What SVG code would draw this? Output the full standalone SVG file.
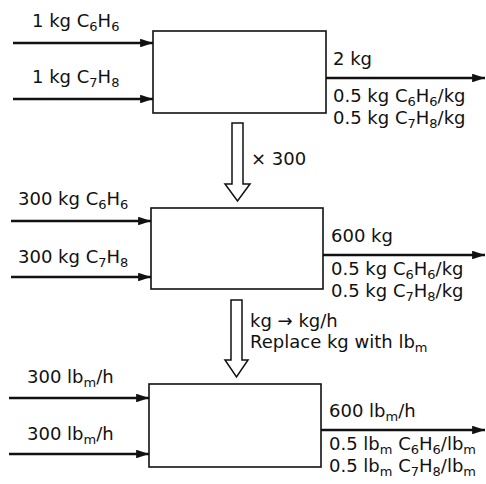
<svg xmlns="http://www.w3.org/2000/svg" width="486" height="484" viewBox="0 0 486 484">
<defs>
<style>
text{font-family:"DejaVu Sans","Liberation Sans",Arial,sans-serif;font-size:18px;fill:#111}
.s{font-size:13px}
.box{fill:#fff;stroke:#111;stroke-width:1.6}
.flow{stroke:#111;stroke-width:2.6;fill:none;marker-end:url(#ah)}
.big{fill:#fff;stroke:#111;stroke-width:1.5}
</style>
<marker id="ah" viewBox="0 0 12 8" refX="12" refY="4" markerWidth="5" markerHeight="3.3" orient="auto" markerUnits="strokeWidth">
<path d="M0,0 L12,4 L0,8 Z" fill="#111"/>
</marker>
</defs>
<rect width="486" height="484" fill="#fff"/>
<g id="connectors">
<line class="flow" x1="13" y1="43" x2="153" y2="43"/>
<line class="flow" x1="13" y1="99" x2="153" y2="99"/>
<line class="flow" x1="326" y1="78" x2="485" y2="78"/>
<line class="flow" x1="11" y1="221" x2="151" y2="221"/>
<line class="flow" x1="11" y1="277" x2="151" y2="277"/>
<line class="flow" x1="323" y1="255" x2="485" y2="255"/>
<line class="flow" x1="9" y1="398" x2="149" y2="398"/>
<line class="flow" x1="9" y1="454" x2="149" y2="454"/>
<line class="flow" x1="321" y1="430" x2="485" y2="430"/>
<path class="big" d="M232,123 L243,123 L243,184 L250,184 L237.5,201 L225,184 L232,184 Z"/>
<path class="big" d="M231,300 L242,300 L242,360 L248,360 L236.5,377 L225,360 L231,360 Z"/>
</g>
<g id="box1">
<rect class="box" x="153" y="31" width="173" height="82"/>
</g>
<g id="box2">
<rect class="box" x="151" y="208" width="172" height="81"/>
</g>
<g id="box3">
<rect class="box" x="149" y="384" width="172" height="83"/>
</g>
<g id="labels">
<text x="32" y="27">1 kg C<tspan class="s" dy="4">6</tspan><tspan dy="-4">H</tspan><tspan class="s" dy="4">6</tspan></text>
<text x="32" y="83">1 kg C<tspan class="s" dy="4">7</tspan><tspan dy="-4">H</tspan><tspan class="s" dy="4">8</tspan></text>
<text x="333" y="65">2 kg</text>
<text x="333" y="102">0.5 kg C<tspan class="s" dy="4">6</tspan><tspan dy="-4">H</tspan><tspan class="s" dy="4">6</tspan><tspan dy="-4">/kg</tspan></text>
<text x="333" y="124">0.5 kg C<tspan class="s" dy="4">7</tspan><tspan dy="-4">H</tspan><tspan class="s" dy="4">8</tspan><tspan dy="-4">/kg</tspan></text>
<text x="251" y="165">× 300</text>
<text x="18" y="205">300 kg C<tspan class="s" dy="4">6</tspan><tspan dy="-4">H</tspan><tspan class="s" dy="4">6</tspan></text>
<text x="18" y="263">300 kg C<tspan class="s" dy="4">7</tspan><tspan dy="-4">H</tspan><tspan class="s" dy="4">8</tspan></text>
<text x="331" y="242">600 kg</text>
<text x="331" y="275">0.5 kg C<tspan class="s" dy="4">6</tspan><tspan dy="-4">H</tspan><tspan class="s" dy="4">6</tspan><tspan dy="-4">/kg</tspan></text>
<text x="331" y="297">0.5 kg C<tspan class="s" dy="4">7</tspan><tspan dy="-4">H</tspan><tspan class="s" dy="4">8</tspan><tspan dy="-4">/kg</tspan></text>
<text x="250" y="327">kg → kg/h</text>
<text x="250" y="348">Replace kg with lb<tspan class="s" dy="4">m</tspan></text>
<text x="27" y="383">300 lb<tspan class="s" dy="4">m</tspan><tspan dy="-4">/h</tspan></text>
<text x="27" y="440">300 lb<tspan class="s" dy="4">m</tspan><tspan dy="-4">/h</tspan></text>
<text x="329" y="417">600 lb<tspan class="s" dy="4">m</tspan><tspan dy="-4">/h</tspan></text>
<text x="329" y="450">0.5 lb<tspan class="s" dy="4">m</tspan><tspan dy="-4"> C</tspan><tspan class="s" dy="4">6</tspan><tspan dy="-4">H</tspan><tspan class="s" dy="4">6</tspan><tspan dy="-4">/lb</tspan><tspan class="s" dy="4">m</tspan></text>
<text x="329" y="472">0.5 lb<tspan class="s" dy="4">m</tspan><tspan dy="-4"> C</tspan><tspan class="s" dy="4">7</tspan><tspan dy="-4">H</tspan><tspan class="s" dy="4">8</tspan><tspan dy="-4">/lb</tspan><tspan class="s" dy="4">m</tspan></text>
</g>
</svg>
